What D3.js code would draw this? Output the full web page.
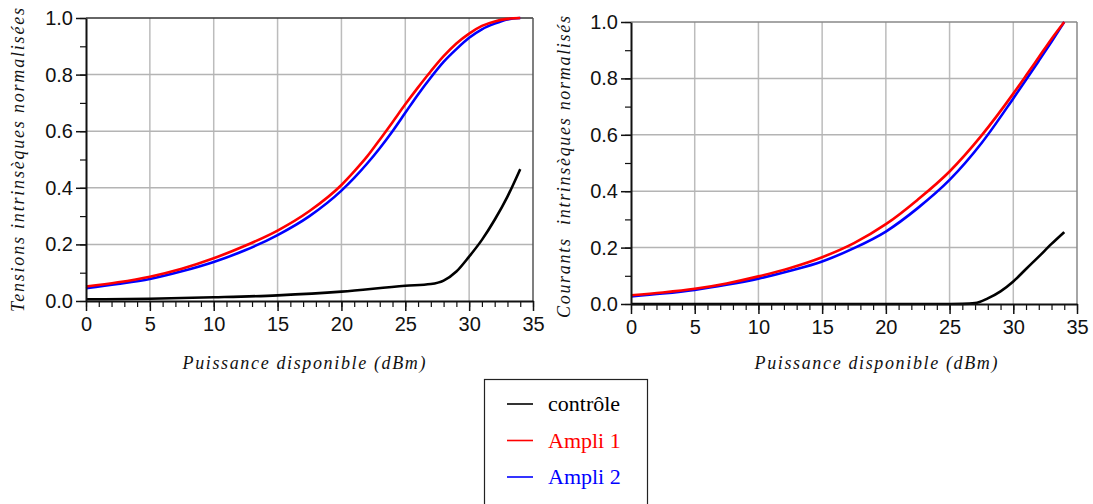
<!DOCTYPE html>
<html><head><meta charset="utf-8">
<script src="https://cdn.jsdelivr.net/npm/d3@7"></script>
<style>body{margin:0;background:#fff}svg{display:block}</style>
</head><body>
<svg id="c" width="1093" height="504"></svg>
<script>
// ---- data ----
const xTicks = [0,5,10,15,20,25,30,35];
const yTicks = [0.0,0.2,0.4,0.6,0.8,1.0];
const seriesNames = ["contrôle","Ampli 1","Ampli 2"];
const seriesColors = ["#000000","#ff0000","#0000ff"];

// Left: tensions
const vX_amp = [0,2.5,5,7.5,10,12.5,15,17.5,20,21,22,23,24,25,26,27,28,29,30,31,32,33,34];
const vAmpli1 = [0.051,0.066,0.086,0.114,0.151,0.196,0.249,0.318,0.410,0.458,0.51,0.57,0.632,0.695,0.755,0.812,0.865,0.91,0.945,0.972,0.988,0.997,1.0];
const vAmpli2 = [0.045,0.060,0.078,0.105,0.138,0.180,0.233,0.300,0.390,0.435,0.485,0.54,0.60,0.665,0.73,0.79,0.845,0.89,0.93,0.96,0.98,0.995,1.0];
const vX_ctrl = [0,5,10,15,20,25,27,28,29,30,31,32,33,34];
const vCtrl = [0.006,0.008,0.013,0.020,0.033,0.054,0.060,0.072,0.104,0.157,0.216,0.287,0.369,0.466];

// Right: courants
const iX_amp = [0,2.5,5,7.5,10,12.5,15,17.5,20,22.5,25,27.5,30,31,32,33,34];
const iAmpli1 = [0.031,0.041,0.054,0.073,0.098,0.128,0.166,0.216,0.283,0.370,0.470,0.597,0.746,0.81,0.875,0.94,1.0];
const iAmpli2 = [0.027,0.037,0.050,0.068,0.090,0.118,0.151,0.198,0.257,0.340,0.440,0.570,0.729,0.795,0.862,0.93,1.0];
const iX_ctrl = [0,10,20,25,26,27,28,29,30,31,32,33,34];
const iCtrl = [0,0,0,0,0.0005,0.003,0.02,0.045,0.08,0.124,0.168,0.213,0.255];

const svg = d3.select("#c");
const titleFont = "Liberation Serif, DejaVu Serif, serif";

function panel(opts){
  const {x0,x1,y0,y1,title,titleX,titleLen,xTitleX,topColor,rightColor,series} = opts;
  const x = d3.scaleLinear().domain([0,35]).range([x0,x1]);
  const y = d3.scaleLinear().domain([0,1]).range([y0,y1]);
  const g = svg.append("g");
  // grid
  g.append("g").selectAll("line.v").data(xTicks.slice(1,-1)).join("line")
    .attr("x1",d=>x(d)).attr("x2",d=>x(d)).attr("y1",y(0)).attr("y2",y(1))
    .attr("stroke","#bcbcbc").attr("stroke-width",1.5);
  g.append("g").selectAll("line.h").data(yTicks.slice(1,-1)).join("line")
    .attr("x1",x(0)).attr("x2",x(35)).attr("y1",d=>y(d)).attr("y2",d=>y(d))
    .attr("stroke","#b4b4b4").attr("stroke-width",1.5);
  // frame top/right
  g.append("line").attr("x1",x(0)).attr("x2",x(35)).attr("y1",y(1)).attr("y2",y(1))
    .attr("stroke",topColor).attr("stroke-width",1.5);
  g.append("line").attr("x1",x(35)).attr("x2",x(35)).attr("y1",y(1)).attr("y2",y(0))
    .attr("stroke",rightColor).attr("stroke-width",1.5);
  // curves
  series.forEach(s=>{
    const pts = s.xs.map((d,i)=>[d,s.ys[i]]);
    g.append("path").datum(pts)
      .attr("fill","none").attr("stroke",s.color).attr("stroke-width",2.6)
      .attr("stroke-linejoin","round")
      .attr("d",d3.line().x(d=>x(d[0])).y(d=>y(d[1])).curve(s.curve));
  });
  // minor ticks
  const minorX = d3.range(0,36,1);
  const minorY = d3.range(0,1.01,0.1);
  g.append("g").attr("transform",`translate(0,${y(0)})`)
    .call(d3.axisBottom(x).tickValues(minorX).tickSize(6).tickFormat(""))
    .call(a=>a.select(".domain").remove())
    .selectAll("line").attr("stroke","#111").attr("stroke-width",1.2);
  g.append("g").attr("transform",`translate(${x(0)},0)`)
    .call(d3.axisLeft(y).tickValues(minorY).tickSize(6).tickFormat(""))
    .call(a=>a.select(".domain").remove())
    .selectAll("line").attr("stroke","#111").attr("stroke-width",1.2);
  // major axes
  const ax = g.append("g").attr("transform",`translate(0,${y(0)})`)
    .call(d3.axisBottom(x).tickValues(xTicks).tickSize(10).tickPadding(6).tickSizeOuter(0));
  ax.select(".domain").attr("stroke","#111").attr("stroke-width",2);
  ax.selectAll("line").attr("stroke","#111").attr("stroke-width",1.5);
  ax.selectAll("text").attr("font-family","Liberation Sans, Arial, sans-serif").attr("font-size",20).attr("fill","#111");
  const ay = g.append("g").attr("transform",`translate(${x(0)},0)`)
    .call(d3.axisLeft(y).tickValues(yTicks).tickSize(10).tickPadding(3).tickFormat(d3.format(".1f")).tickSizeOuter(0));
  ay.select(".domain").attr("stroke","#111").attr("stroke-width",2);
  ay.selectAll("line").attr("stroke","#111").attr("stroke-width",1.5);
  ay.selectAll("text").attr("font-family","Liberation Sans, Arial, sans-serif").attr("font-size",20).attr("fill","#111");
  // titles
  svg.append("text").attr("x",xTitleX).attr("y",369).attr("text-anchor","middle")
    .style("font-family",titleFont).style("font-style","italic").style("font-size","18px")
    .attr("textLength",243).attr("lengthAdjust","spacing")
    .attr("fill","#111").text("Puissance disponible (dBm)");
  svg.append("text").attr("transform",`translate(${titleX},${opts.titleCy}) rotate(-90)`)
    .attr("text-anchor","middle")
    .style("font-family",titleFont).style("font-style","italic").style("font-size","18px")
    .attr("textLength",titleLen).attr("lengthAdjust","spacing")
    .attr("fill","#111").style("white-space","pre").text(title);
}

panel({x0:86,x1:533,y0:301,y1:18,title:"Tensions intrinsèques normalisées",titleX:24,titleCy:160,titleLen:304,
  xTitleX:304,topColor:"#333",rightColor:"#555",
  series:[
    {xs:vX_ctrl,ys:vCtrl,color:seriesColors[0],curve:d3.curveMonotoneX},
    {xs:vX_amp,ys:vAmpli2,color:seriesColors[2],curve:d3.curveMonotoneX},
    {xs:vX_amp,ys:vAmpli1,color:seriesColors[1],curve:d3.curveMonotoneX}
  ]});
panel({x0:631,x1:1077,y0:304,y1:22,title:"Courants  intrinsèques normalisés",titleX:570,titleCy:167,titleLen:302,
  xTitleX:876,topColor:"#888",rightColor:"#888",
  series:[
    {xs:iX_ctrl,ys:iCtrl,color:seriesColors[0],curve:d3.curveMonotoneX},
    {xs:iX_amp,ys:iAmpli2,color:seriesColors[2],curve:d3.curveMonotoneX},
    {xs:iX_amp,ys:iAmpli1,color:seriesColors[1],curve:d3.curveMonotoneX}
  ]});

// legend
const lg = svg.append("g");
lg.append("rect").attr("x",484.5).attr("y",379.5).attr("width",163).attr("height",140)
  .attr("fill","#fff").attr("stroke","#222").attr("stroke-width",1.2);
seriesNames.forEach((n,i)=>{
  const yy = 404 + i*36.5;
  lg.append("line").attr("x1",507).attr("x2",533).attr("y1",yy).attr("y2",yy)
    .attr("stroke",seriesColors[i]).attr("stroke-width",1.6);
  lg.append("text").attr("x",548).attr("y",yy+7).style("font-family",titleFont)
    .style("font-size","22px").attr("fill",seriesColors[i]).text(n);
});
</script>
</body></html>
